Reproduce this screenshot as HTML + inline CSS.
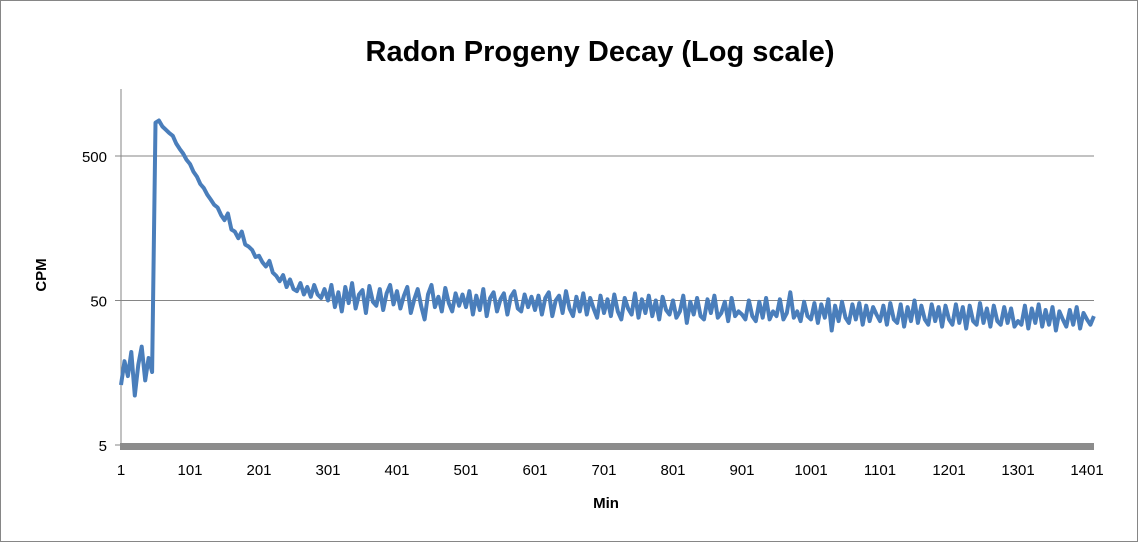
<!DOCTYPE html>
<html><head><meta charset="utf-8"><style>
html,body{margin:0;padding:0;background:#fff}
svg{display:block;font-family:"Liberation Sans",sans-serif}
</style></head><body>
<svg id="chart" width="1138" height="542">
<rect x="0.5" y="0.5" width="1137" height="541" fill="#fff" stroke="#868686"/>
<text x="600" y="61" text-anchor="middle" font-size="29" font-weight="bold">Radon Progeny Decay (Log scale)</text>
<text x="46" y="275" text-anchor="middle" font-size="15" font-weight="bold" transform="rotate(-90 46 275)">CPM</text>
<text x="606" y="508" text-anchor="middle" font-size="15" font-weight="bold">Min</text>
<g id="grid"></g><g id="axes"></g><g id="series"></g>
</svg>
<script>
const yTicks=[5,50,500];
const xTickLabels=[1,101,201,301,401,501,601,701,801,901,1001,1101,1201,1301,1401];
const startMin=1, stepMin=5;
const cpm=[13,19,15,22,11,18,24,14,20,16,
850,880,800,760,720,690,610,560,520,470,440,390,360,320,300,270,250,230,220,195,180,200,155,150,135,150,122,118,112,100,102,92,86,94,78,74,68,75,62,70,60,58,66,55,62,53,64,55,52,60,
50,64,45,57,42,62,48,66,44,55,59,41,63,49,46,60,43,56,64,47,
58,44,54,62,41,51,60,46,37,55,64,45,53,42,61,48,42,56,46,55,
45,58,40,54,43,60,39,52,57,42,51,56,40,53,58,44,42,55,45,53,
43,54,40,52,57,39,50,54,41,58,44,39,53,42,56,40,52,44,38,54,
41,51,39,55,42,37,52,44,40,56,38,51,41,54,39,50,37,53,43,40,
50,38,42,54,35,49,40,52,39,37,51,41,54,38,41,49,36,52,39,42,
40,37,50,39,36,49,38,52,37,42,39,51,37,41,57,38,42,36,49,39,
37,48,35,47,38,51,31,46,36,49,38,35,47,37,48,34,46,36,45,40,
36,46,34,48,37,35,47,33,45,36,50,35,46,37,34,47,36,45,33,46,
37,34,47,35,45,32,46,36,34,48,35,44,33,46,36,34,45,35,44,33,
36,34,46,32,44,35,47,33,43,34,45,31,42,37,33,43,34,45,32,41,
37,34,39];
const NS='http://www.w3.org/2000/svg';
const X0=121, PXMIN=0.69, Y5=445, PXDEC=144.5;
const xs=m=>X0+(m-1)*PXMIN;
const ys=v=>Y5-(Math.log10(v)-Math.log10(5))*PXDEC;
function mk(t,a,p){const e=document.createElementNS(NS,t);for(const k in a)e.setAttribute(k,a[k]);p.appendChild(e);return e;}
const grid=document.getElementById('grid'),axes=document.getElementById('axes'),ser=document.getElementById('series');
yTicks.forEach(v=>{
  const y=ys(v);
  if(v!==5){const g=mk('line',{x1:X0,x2:1094,y1:y,y2:y,stroke:'#868686','stroke-width':1},grid);
  
  }
  const tk=mk('line',{x1:X0-6,x2:X0,y1:y,y2:y,stroke:'#868686'},axes);
  
  
  const t=mk('text',{x:107,y:y+6,'text-anchor':'end','font-size':15},axes);
  t.textContent=v;
  
  
});
const ya=mk('line',{x1:X0,x2:X0,y1:89,y2:448,stroke:'#868686'},axes);


const xa=mk('rect',{x:X0-1,y:443,width:1094-X0+1,height:7,fill:'#8c8c8c'},axes);


xTickLabels.forEach(m=>{
  const t=mk('text',{x:xs(m),y:475,'text-anchor':'middle','font-size':15},axes);
  t.textContent=m;
  
  
});
const pts=cpm.map((v,i)=>xs(startMin+i*stepMin).toFixed(1)+','+ys(v).toFixed(1)).join(' ');
const pl=mk('polyline',{points:pts,fill:'none',stroke:'#4a7ebb','stroke-width':4,'stroke-linejoin':'round'},ser);


</script>
</body></html>
